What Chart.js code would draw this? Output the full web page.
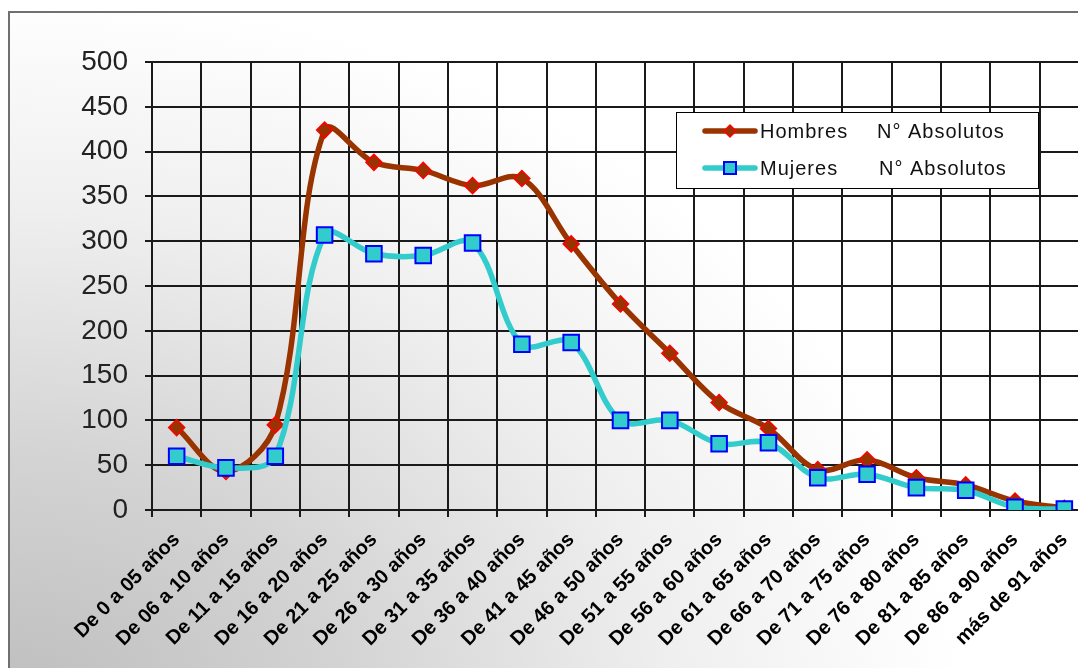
<!DOCTYPE html>
<html lang="es">
<head>
<meta charset="UTF-8">
<title>Hombres y Mujeres por tramo de edad</title>
<script src="https://cdn.jsdelivr.net/npm/chart.js"></script>
<style>
  body { margin: 0; width: 1078px; height: 668px; overflow: hidden; background: #fff; }
  #frame {
    position: absolute; left: 8px; top: 11px; width: 1110px; height: 700px;
    border: 2px solid #707070;
    background: radial-gradient(ellipse 950px 720px at 0% 100%, #bdbdbd 0%, #d3d3d3 35%, #efefef 70%, #ffffff 100%);
  }
</style>
</head>
<body>
<div id="frame"><canvas id="edadChart" width="1110" height="700"></canvas></div>
<script>
// tramos de edad
const edades = [
  'De 0 a 05 años', 'De 06 a 10 años', 'De 11 a 15 años', 'De 16 a 20 años',
  'De 21 a 25 años', 'De 26 a 30 años', 'De 31 a 35 años', 'De 36 a 40 años',
  'De 41 a 45 años', 'De 46 a 50 años', 'De 51 a 55 años', 'De 56 a 60 años',
  'De 61 a 65 años', 'De 66 a 70 años', 'De 71 a 75 años', 'De 76 a 80 años',
  'De 81 a 85 años', 'De 86 a 90 años', 'más de 91 años'
];
const hombres = [92, 43, 95, 424, 388, 379, 362, 370, 297, 230, 175, 120, 91, 45, 56, 36, 28, 10, 2];
const mujeres = [60, 47, 60, 307, 286, 284, 298, 185, 187, 100, 100, 74, 75, 36, 40, 25, 22, 3, 1];
const nombres = ['Hombres', 'Mujeres'];
const unidad = 'N° Absolutos';
const yMin = 0, yMax = 500, yPaso = 50;

// leyenda con linea + marcador, como la original
const legendBox = {
  id: 'legendBox',
  afterDatasetsDraw(chart) {
    const { ctx, chartArea } = chart;
    const x = chartArea.right - 413, y = chartArea.top + 50, w = 362, h = 76;
    ctx.save();
    ctx.fillStyle = '#fff';
    ctx.fillRect(x, y, w, h);
    ctx.strokeStyle = '#000';
    ctx.lineWidth = 1;
    ctx.strokeRect(x + 0.5, y + 0.5, w, h);
    chart.data.datasets.forEach((ds, i) => {
      const cy = y + 19 + i * 37;
      ctx.strokeStyle = ds.borderColor;
      ctx.lineWidth = 5.5;
      ctx.lineCap = 'round';
      ctx.beginPath();
      ctx.moveTo(x + 29, cy);
      ctx.lineTo(x + 79, cy);
      ctx.stroke();
      const cx = x + 54;
      ctx.fillStyle = ds.pointBackgroundColor;
      ctx.strokeStyle = ds.pointBorderColor;
      ctx.lineWidth = ds.pointBorderWidth;
      ctx.beginPath();
      if (ds.pointStyle === 'rectRot') {
        const r = 6;
        ctx.moveTo(cx - r, cy); ctx.lineTo(cx, cy - r);
        ctx.lineTo(cx + r, cy); ctx.lineTo(cx, cy + r);
        ctx.closePath();
      } else {
        ctx.rect(cx - 6, cy - 6, 12, 12);
      }
      ctx.fill();
      ctx.stroke();
      ctx.fillStyle = '#111';
      ctx.font = '20px "Liberation Sans", Arial, sans-serif';
      ctx.letterSpacing = '1px';
      ctx.textBaseline = 'middle';
      ctx.fillText(nombres[i], x + 84, cy + 1);
      ctx.fillText(unidad, x + 201 + i * 2, cy + 1);
    });
    ctx.restore();
  }
};

const ctx = document.getElementById('edadChart').getContext('2d');
new Chart(ctx, {
  type: 'line',
  data: {
    labels: edades,
    datasets: [{
      label: nombres[0] + '    ' + unidad,
      data: hombres,
      borderColor: '#993300',
      borderWidth: 5.5,
      tension: 0.35,
      pointStyle: 'rectRot',
      pointRadius: 8,
      pointBackgroundColor: '#993300',
      pointBorderColor: '#ff0000',
      pointBorderWidth: 1.5,
      order: 2
    }, {
      label: nombres[1] + '    ' + unidad,
      data: mujeres,
      borderColor: '#33cccc',
      borderWidth: 5.5,
      tension: 0.35,
      pointStyle: 'rect',
      pointRadius: 11,
      pointBackgroundColor: '#33cccc',
      pointBorderColor: '#0000ff',
      pointBorderWidth: 2,
      order: 1
    }]
  },
  options: {
    responsive: false,
    animation: false,
    devicePixelRatio: 1,
    layout: { padding: { top: 49, right: 31, left: 0, bottom: 0 } },
    plugins: {
      legend: { display: false },
      tooltip: { enabled: false }
    },
    scales: {
      x: {
        offset: true,
        grid: { offset: true, color: '#1a1a1a', lineWidth: 2, tickLength: 7 },
        border: { color: '#1a1a1a', width: 2 },
        ticks: {
          minRotation: 45, maxRotation: 45, autoSkip: false, padding: 11,
          color: '#000',
          font: { family: '"Liberation Sans", Arial, sans-serif', size: 20, weight: 'bold' }
        },
        afterFit(scale) { scale.height = 203; }
      },
      y: {
        min: yMin, max: yMax,
        grid: { color: '#1a1a1a', lineWidth: 2, tickLength: 7 },
        border: { color: '#1a1a1a', width: 2 },
        ticks: {
          stepSize: yPaso, padding: 17, color: '#222',
          font: { family: '"Liberation Sans", Arial, sans-serif', size: 28 }
        },
        afterFit(scale) { scale.width = 142; }
      }
    }
  },
  plugins: [legendBox]
});
</script>
</body>
</html>
